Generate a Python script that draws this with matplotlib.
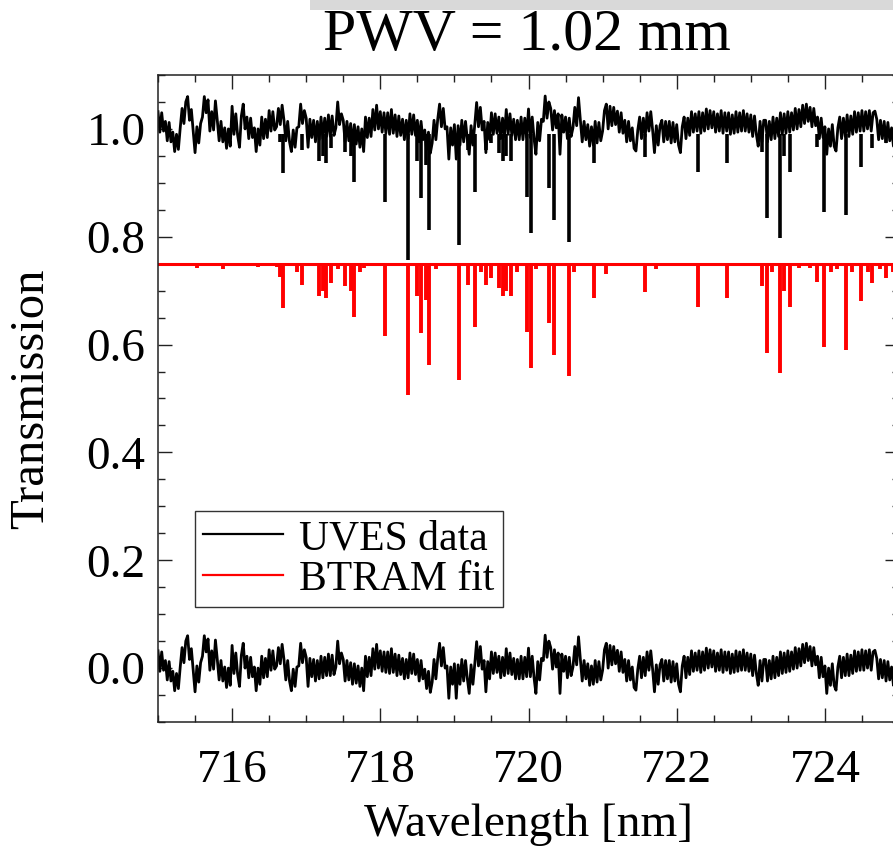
import numpy as np
import matplotlib
matplotlib.use("Agg")
import matplotlib.pyplot as plt
from matplotlib.ticker import MultipleLocator
from matplotlib.patches import Rectangle
from matplotlib.lines import Line2D

plt.rcParams['path.simplify'] = False

# ---------------- data ----------------
title_text = "PWV = 1.02 mm"
x_label = "Wavelength [nm]"
y_label = "Transmission"
legend_labels = ["UVES data", "BTRAM fit"]

wl_start = 715.0
wl_step = 0.025

# residual (UVES data - BTRAM fit), in units of 0.001
resid_milli = [
    32, -6, 30, -4,    14, -22, 12, -24,   -6, -42, -10, -38,   2, 38, 10, 50,
    60, 16, 36, -4,    -44, 4, -26, 10,    22, 60, 30, 54,      -4, 32, -2, 52,
    16, -22, 14, -24,  2, -36, 0, -32,     42, -10, 28, -12,    -34, 24, 46, 0,
    22, -18, 20, -16,  2, -42, 0, -30,     22, -18, 18, -16,    34, -4, 32, -2,
    4, 38, 8, 44,      16, -22, 14, -24,   -42, -2, -34, 2,     4, 46, 10, 34,
    20, -34, 18, -16,  16, -24, 14, -20,   22, -18, 20, -14,    26, -14, 24, -12,
    2, 50, 8, 28,      16, -24, 14, -22,   10, -30, 8, -28,     4, -34, 0, -42,
    22, -16, 20, -14,  36, -2, 44, 0,      32, -6, 30, -8,      30, -10, 36, -8,
    26, -14, 24, -12,  18, -20, 16, -18,   28, -10, 26, -12,    16, -24, 14, -20,
    -2, -38, -6, -45,  -26, 16, -20, 18,   46, 4, 38, 0,        4, -56, 2, -30,
    8, -56, 6, -30,    16, -24, 14, -20,   -47, 6, -30, 8,      49, 4, 40, -2,
    14, -44, 12, -20,  30, -10, 28, -8,    22, -18, 20, -14,    36, -10, 28, -12,
    18, -20, 16, -20,  22, -20, 20, -16,   37, -16, 22, -18,    -47, 12, -22, 18,
    14, 61, 20, 50,    38, -2, 34, 2,      28, -47, 26, -6,     22, -18, 20, -14,
    2, 40, 6, 58,      16, -24, 14, -20,   8, -32, 4, -30,      14, -26, 12, -22,
    -4, 34, 46, 0,     42, 6, 40, 8,       33, -6, 30, -8,      16, -24, 14, -22,
    2, -36, -41, -2,   22, -18, 20, -14,   30, -4, 32, -2,      -44, 6, -30, 6,
    16, -24, 14, -20,  14, -26, 12, -24,   8, -30, -44, 4,      22, -18, 20, -12,
    32, -6, 28, -4,    32, -8, 30, -4,     37, 0, 34, 2,        32, -6, 28, -4,
    34, -8, 30, -4,    30, -10, 26, -8,    32, -6, 30, -4,      34, -4, 28, -6,
    26, -14, 24, -10,  -32, 14, -24, 16,   16, -24, 14, -20,    22, -18, 20, -14,
    30, -10, 28, -8,   32, -6, 30, -2,     38, 0, 36, 4,        44, 10, 46, 14,
    40, 4, 38, 6,      22, -18, 20, -16,   4, -47, 0, -32,      8, -32, -41, 2,
    22, -18, 20, -14,  26, -14, 24, -10,   32, -6, 30, -4,      34, -4, 32, 0,
    34, -4, 30, 33,    18, -20, 16, -18,   14, -24, 12, -22,    2, -32, -10, -36,
    -35,
]

data_continuum = 1.0      # level of the UVES data
fit_continuum = 0.75      # level of the (offset) BTRAM fit
fit_offset = 0.25         # BTRAM fit is shown shifted down by this amount

# absorption lines of the BTRAM fit: centre [nm] and minimum (as plotted, red)
line_centers = [
    715.15, 715.52, 715.88, 716.05, 716.35, 716.60, 716.64, 716.69, 716.88, 716.95,
    717.17, 717.22, 717.27, 717.33, 717.43, 717.52, 717.60, 717.64, 717.72, 717.78,
    718.06, 718.20, 718.38, 718.50, 718.55, 718.61, 718.66, 718.75, 718.85, 719.06,
    719.18, 719.28, 719.36, 719.43, 719.50, 719.60, 719.65, 719.70, 719.76, 719.85,
    719.98, 720.04, 720.10, 720.28, 720.35, 720.55, 720.62, 720.88, 721.04, 721.20,
    721.57, 721.72, 722.29, 722.68, 722.99, 723.15, 723.22, 723.28, 723.40, 723.45,
    723.53, 723.65, 723.80, 723.90, 723.99, 724.08, 724.17, 724.29, 724.36, 724.49,
    724.58, 724.64, 724.75, 724.82, 724.92, 724.96,
]
line_minima = [
    0.745, 0.742, 0.741, 0.745, 0.743, 0.744, 0.725, 0.668, 0.735, 0.711,
    0.690, 0.700, 0.687, 0.715, 0.740, 0.708, 0.700, 0.652, 0.735, 0.742,
    0.615, 0.745, 0.507, 0.690, 0.622, 0.683, 0.563, 0.740, 0.745, 0.535,
    0.711, 0.633, 0.735, 0.710, 0.724, 0.705, 0.690, 0.700, 0.690, 0.735,
    0.624, 0.557, 0.740, 0.640, 0.581, 0.541, 0.735, 0.687, 0.730, 0.745,
    0.698, 0.740, 0.670, 0.687, 0.745, 0.708, 0.585, 0.735, 0.548, 0.700,
    0.670, 0.742, 0.742, 0.717, 0.596, 0.735, 0.740, 0.590, 0.735, 0.680,
    0.735, 0.715, 0.740, 0.724, 0.735, 0.710,
]

x_ticks = [716, 718, 720, 722, 724]
y_ticks = [0.0, 0.2, 0.4, 0.6, 0.8, 1.0]

# ---------------- figure ----------------
W, H = 893, 847
fig = plt.figure(figsize=(W / 100, H / 100), dpi=100)
plt.rcParams['font.family'] = ['Liberation Serif', 'DejaVu Serif']

ax = fig.add_axes([158 / W, (H - 722) / H, (899 - 158) / W, (722 - 75) / H])

resid = np.array(resid_milli) / 1000.0
wl = wl_start + wl_step * np.arange(len(resid))
centers = np.array(line_centers)
minima = np.array(line_minima)
strong = minima < 0.73   # lines visible above the noise in the data

# UVES data (top), lines drawn where the fit absorbs
ax.plot(wl, resid + data_continuum, color='black', lw=2.0)
ax.vlines(centers[strong], minima[strong] + fit_offset, data_continuum - 0.01,
          color='black', lw=2.6)
# residual (bottom)
ax.plot(wl, resid, color='black', lw=2.0)
# BTRAM fit (offset)
ax.plot([wl_start, 725.0], [fit_continuum, fit_continuum], color='#ff0000', lw=2.2)
ax.vlines(centers, minima, fit_continuum, color='#ff0000', lw=2.8)

ax.set_xlim(715.0, 725.0)
ax.set_ylim(-0.1, 1.1)
ax.set_xticks(x_ticks)
ax.set_xticklabels([str(t) for t in x_ticks])
ax.set_yticks(y_ticks)
ax.set_yticklabels([f"{t:.1f}" for t in y_ticks])
ax.xaxis.set_minor_locator(MultipleLocator(0.5))
ax.yaxis.set_minor_locator(MultipleLocator(0.05))
ax.tick_params(which='both', direction='in', top=True, right=True, width=1.0, color='#222222')
ax.tick_params(which='major', length=10, labelsize=34)
ax.tick_params(axis='x', which='major', pad=20)
ax.tick_params(axis='y', which='major', pad=9)
ax.tick_params(which='minor', length=5)
for s in ax.spines.values():
    s.set_linewidth(1.1)
    s.set_color('#222222')

ax.set_xlabel(x_label, fontsize=34, labelpad=8)
ax.set_ylabel(y_label, fontsize=35, labelpad=24)

fig.text(527 / W, 1 - 36 / H, title_text, fontsize=43, ha='center', va='center')

# light grey band at top of picture
fig.patches.append(Rectangle((310 / W, 1 - 10 / H), 1, 10 / H, transform=fig.transFigure,
                             facecolor='#d9d9d9', edgecolor='none'))

handles = [Line2D([], [], color='black', lw=1.6), Line2D([], [], color='#ff0000', lw=1.6)]
leg = ax.legend(handles, legend_labels, loc='lower left', bbox_to_anchor=(195 / W, (H - 607) / H),
                bbox_transform=fig.transFigure, fontsize=30, frameon=True, fancybox=False,
                edgecolor='black', handlelength=1.9, handletextpad=0.4, borderpad=0.2,
                labelspacing=0.05, borderaxespad=0)
leg.get_frame().set_linewidth(1.0)

fig.savefig('out.png', dpi=100)
